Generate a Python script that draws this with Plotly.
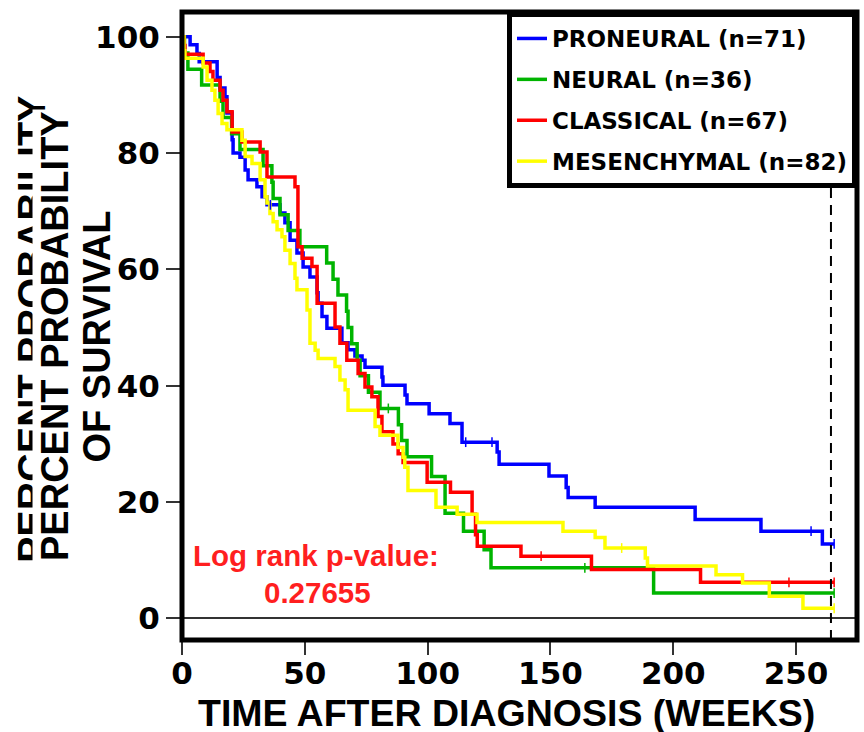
import numpy as np
import plotly.graph_objects as go

# ---- data (weeks, percent survival) ----
pro_t = [0, 3.3, 6.1, 7.0, 14.3, 15.5, 17.5, 18.3, 20.4, 20.8, 23.6, 25.7, 26.9, 30.5, 32.6, 34.6, 39.9, 41.9, 44.0, 46.8,
         49.3, 52.1, 55.0, 55.4, 57.0, 59.0, 65.1, 67.6, 70.4, 73.3, 74.5, 81.4, 81.8, 90.8, 91.6, 100.6, 109.1, 114.0,
         128.3, 129.1, 149.4, 156.4, 157.2, 168.2, 208.9, 235.7, 260.7, 265.5]
pro_s = [100, 98.6, 97.1, 95.7, 93.0, 91.2, 89.7, 86.9, 82.3, 80.0, 79.3, 77.1, 75.4, 74.2, 72.5, 71.1, 69.7, 68.0, 65.0, 62.8,
         60.4, 58.7, 56.0, 54.2, 51.9, 49.9, 47.4, 46.2, 45.1, 44.4, 43.2, 41.5, 40.1, 38.4, 36.9, 35.2, 33.5, 30.3,
         28.6, 26.5, 24.5, 22.5, 20.8, 19.1, 17.0, 15.0, 12.8, 12.8]
pro_cens = [36.0, 115.5, 126.2, 256.1, 265.5]

neu_t = [0, 1.0, 2.4, 8.0, 15.5, 16.7, 20.2, 23.6, 33.0, 36.6, 37.1, 39.9, 43.2, 48.0, 58.9, 61.5, 63.5, 67.0, 67.6, 69.1,
         71.3, 72.5, 75.9, 80.6, 88.1, 89.4, 91.6, 101.6, 107.1, 114.6, 123.0, 125.8, 192.0, 265.5]
neu_s = [100, 97.2, 94.4, 91.7, 88.9, 86.1, 83.3, 80.6, 77.8, 75.0, 72.2, 69.4, 66.7, 63.9, 61.1, 58.3, 55.6, 52.8, 50.0, 47.2,
         44.4, 41.7, 38.9, 36.1, 33.3, 30.6, 27.8, 24.4, 18.1, 15.0, 11.8, 8.7, 4.35, 4.35]
neu_cens = [84.0, 164.0, 265.5]

cla_t = [0, 0.8, 1.2, 8.6, 11.4, 12.6, 15.5, 16.7, 18.3, 20.4, 24.4, 31.8, 34.6, 46.0, 47.2, 48.9, 52.9, 55.0, 62.3, 64.3,
         67.1, 71.7, 74.5, 77.3, 79.8, 81.4, 85.9, 88.0, 90.0, 99.8, 109.3, 118.1, 119.5, 120.2, 138.0, 166.7, 211.1, 265.5]
cla_s = [100, 98.5, 97.0, 95.5, 94.0, 92.5, 90.8, 89.1, 87.1, 83.6, 81.9, 80.2, 75.9, 74.2, 63.9, 61.9, 60.5, 54.2, 50.1, 47.3,
         44.4, 42.1, 39.8, 38.1, 34.7, 32.1, 30.0, 28.3, 26.8, 23.4, 21.7, 17.9, 14.4, 12.4, 10.7, 8.4, 6.2, 6.2]
cla_cens = [146.2, 247.1, 265.5]

mes_t = [0, 0.8, 1.2, 8.6, 10.2, 12.2, 13.4, 14.7, 16.3, 18.3, 24.4, 25.7, 28.5, 31.8, 33.8, 34.6, 35.8, 37.1, 38.7, 40.7,
         41.9, 44.0, 46.0, 46.8, 50.9, 52.1, 54.2, 55.4, 62.3, 64.3, 66.4, 67.6, 78.6, 80.6, 87.9, 90.0, 90.7, 92.0, 103.4,
         112.0, 120.1, 155.1, 168.2, 172.2, 188.6, 189.5, 217.4, 228.2, 239.1, 252.8, 265.5]
mes_s = [100, 97.6, 96.3, 94.8, 92.5, 90.8, 89.1, 86.8, 85.1, 84.0, 82.2, 79.4, 78.2, 75.4, 72.5, 71.4, 69.6, 68.2, 66.8, 65.6,
         63.3, 61.0, 58.5, 56.5, 53.0, 47.3, 46.1, 44.7, 43.3, 41.0, 39.3, 35.8, 33.0, 31.5, 29.4, 27.7, 26.0, 22.0, 19.1,
         17.9, 16.5, 15.0, 13.9, 12.1, 10.4, 9.0, 7.5, 6.1, 3.8, 1.75, 1.75]
mes_cens = [179.0, 265.5]

group_names = ["PRONEURAL (n=71)", "NEURAL (n=36)", "CLASSICAL (n=67)", "MESENCHYMAL (n=82)"]
group_colors = ["#0000FF", "#00B400", "#FF0000", "#FFFF00"]
x_ticks = [0, 50, 100, 150, 200, 250]
y_ticks = [0, 20, 40, 60, 80, 100]
cutoff_week = 264.2
p_label = "Log rank p-value:"
p_value = "0.27655"

series = [(pro_t, pro_s, pro_cens), (neu_t, neu_s, neu_cens), (cla_t, cla_s, cla_cens), (mes_t, mes_s, mes_cens)]

BOLD = "Liberation Sans"
WIDE = "DejaVu Sans"

fig = go.Figure()
for (t, s, c), name, col in zip(series, group_names, group_colors):
    fig.add_trace(go.Scatter(x=t, y=s, mode="lines", name=name, legendgroup=name,
                             line=dict(shape="hv", width=3.5, color=col), hoverinfo="skip"))
for (t, s, c), name, col in zip(series, group_names, group_colors):
    idx = np.searchsorted(np.array(t), np.array(c), side="right") - 1
    lv = [s[i] for i in idx]
    fig.add_trace(go.Scatter(x=c, y=lv, mode="markers", showlegend=False, legendgroup=name,
                             marker=dict(symbol="line-ns", size=7, line=dict(width=1.5, color=col)),
                             hoverinfo="skip"))

fig.update_layout(
    width=864, height=732,
    margin=dict(l=182, r=7, t=12, b=92),
    paper_bgcolor="white", plot_bgcolor="white",
    showlegend=True,
    legend=dict(x=1, y=1, xanchor="right", yanchor="top", bgcolor="white",
                bordercolor="black", borderwidth=5, traceorder="grouped", tracegroupgap=8,
                font=dict(family=WIDE, size=23, color="black", weight="bold")),
    xaxis=dict(range=[0, 274.8], tickvals=x_ticks, ticks="outside", ticklen=14, tickwidth=2,
               tickcolor="#333", showgrid=False, zeroline=False, showline=False,
               ticklabelstandoff=-8,
               tickfont=dict(family=WIDE, size=31, color="black", weight="bold")),
    yaxis=dict(range=[-3.71, 104.25], tickvals=y_ticks, ticks="outside", ticklen=15, tickwidth=2,
               tickcolor="#333", showgrid=False, zeroline=True, zerolinecolor="#333", zerolinewidth=2,
               showline=False,
               tickfont=dict(family=WIDE, size=31, color="black", weight="bold")),
    shapes=[
        dict(type="line", xref="x", yref="paper", x0=cutoff_week, x1=cutoff_week, y0=0, y1=1,
             line=dict(color="black", width=2, dash="10px,7px")),
        dict(type="rect", xref="paper", yref="paper", x0=0, x1=1, y0=0, y1=1,
             line=dict(color="black", width=5), layer="above"),
    ],
)

ann = [
    dict(text="PERCENT PROBABILITY", x=-0.2237, y=0.4936, size=39.5, bg=None, color="black"),
    dict(text="PERCENT PROBABILITY", x=-0.1874, y=0.4833, size=38, bg="white", color="black"),
    dict(text="OF SURVIVAL", x=-0.1252, y=0.484, size=38, bg=None, color="black"),
]
for a in ann:
    d = dict(text=a["text"], x=a["x"], y=a["y"], xref="paper", yref="paper", showarrow=False,
             textangle=-90, xanchor="center", yanchor="middle",
             font=dict(family=BOLD, size=a["size"], color=a["color"], weight="bold"))
    if a["bg"]:
        d["bgcolor"] = a["bg"]
    fig.add_annotation(**d)

fig.add_annotation(text=p_label, x=0.1985, y=0.1338, xref="paper", yref="paper", showarrow=False,
                   xanchor="center", yanchor="middle",
                   font=dict(family=BOLD, size=29.5, color="#FF1F1F", weight="bold"))
fig.add_annotation(text=p_value, x=0.2, y=0.0764, xref="paper", yref="paper", showarrow=False,
                   xanchor="center", yanchor="middle",
                   font=dict(family=BOLD, size=29.5, color="#FF1F1F", weight="bold"))
fig.add_annotation(text="TIME AFTER DIAGNOSIS (WEEKS)", x=0.4807, y=-0.1155, xref="paper", yref="paper",
                   showarrow=False, xanchor="center", yanchor="middle",
                   font=dict(family=BOLD, size=37.5, color="black", weight="bold"))

fig.write_html("out.html")
